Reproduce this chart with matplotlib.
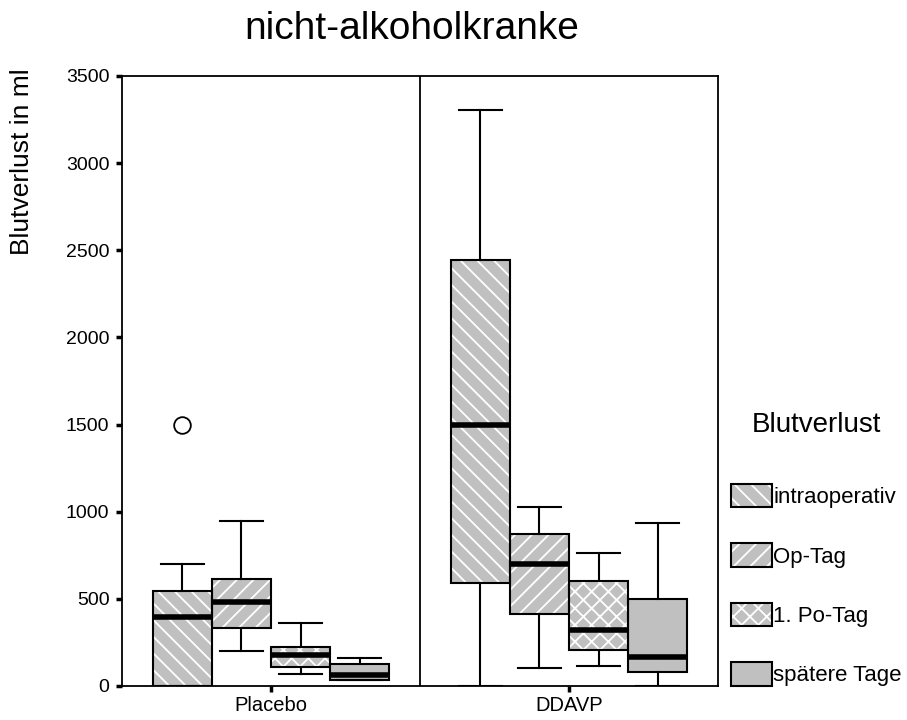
import numpy as np
import matplotlib
matplotlib.use("Agg")
import matplotlib.pyplot as plt
from matplotlib.patches import Patch
from matplotlib.legend_handler import HandlerTuple

plt.rcParams['font.family'] = ['Liberation Sans', 'DejaVu Sans']
plt.rcParams['hatch.linewidth'] = 1.3

# ----
# Data
# ----
groups = ['Placebo', 'DDAVP']
series = ['intraoperativ', 'Op-Tag', '1. Po-Tag', 'spätere Tage']
hatches = ['\\\\', '//', 'xx', '']

# per group, per series: whislo, q1, median, q3, whishi
whislo = [[0, 203, 67, 34], [0, 101, 115, 0]]
q1 = [[0, 333, 111, 34], [590, 411, 207, 79]]
med = [[398, 482, 178, 63], [1500, 698, 321, 168]]
q3 = [[547, 616, 225, 124], [2444, 870, 604, 501]]
whishi = [[700, 948, 363, 160], [3305, 1029, 765, 937]]
fliers = [[[1500], [], [], []], [[], [], [], []]]

# ------
# Layout
# ------
fig = plt.figure(figsize=(9.07, 7.2), dpi=100)
ax = fig.add_axes([122/907, 1-686/720, (718-122)/907, (686-76)/720])

w = 0.198
gray = '#c0c0c0'
offsets = (np.arange(len(series)) - 1.5)*w

stats = []
positions = []
for g in range(len(groups)):
    for s in range(len(series)):
        stats.append(dict(whislo=whislo[g][s], q1=q1[g][s], med=med[g][s],
                          q3=q3[g][s], whishi=whishi[g][s], fliers=fliers[g][s]))
        positions.append(g + offsets[s])

# hatched fills (white hatch) and outlines
for g in range(len(groups)):
    x = g + offsets
    h = np.array(q3[g]) - np.array(q1[g])
    for s in range(len(series)):
        ax.bar(x[s], h[s], bottom=q1[g][s], width=w, color=gray, edgecolor='white',
               hatch=hatches[s], linewidth=0, zorder=2)

ax.bxp(stats, positions=positions, widths=w, showbox=False, capwidths=w*0.72,
       whiskerprops=dict(color='black', lw=1.5),
       capprops=dict(color='black', lw=1.5),
       medianprops=dict(color='black', lw=4, solid_capstyle='butt'),
       flierprops=dict(marker='o', markerfacecolor='white', markeredgecolor='black',
                       markersize=12, markeredgewidth=1.3),
       manage_ticks=False, zorder=3)

for g in range(len(groups)):
    x = g + offsets
    h = np.array(q3[g]) - np.array(q1[g])
    ax.bar(x, h, bottom=q1[g], width=w, fill=False, edgecolor='black',
           linewidth=1.5, zorder=4)

ax.axvline(0.5, color='black', lw=1.3, zorder=5)

ax.set_xlim(-0.5, 1.5)
ax.set_ylim(0, 3500)
ax.set_yticks(np.arange(0, 3501, 500))
ax.set_xticks(range(len(groups)))
ax.set_xticklabels(groups)
ax.tick_params(axis='both', direction='out', length=4, width=2.5, labelsize=14,
               colors='black', pad=5)
ax.tick_params(axis='x', pad=3, labelsize=14.5)
for sp in ax.spines.values():
    sp.set_linewidth(1.3)

fig.text(412/907, 1-29/720, 'nicht-alkoholkranke', fontsize=28, ha='center', va='center')
fig.text(22/907, 1-162/720, 'Blutverlust in ml', fontsize=19, rotation=90,
         ha='center', va='center')

# legend
handles = []
for s in range(len(series)):
    fill = Patch(facecolor=gray, edgecolor='white', hatch=hatches[s], linewidth=0)
    edge = Patch(facecolor='none', edgecolor='black', linewidth=1.5)
    handles.append((fill, edge))
leg = fig.legend(handles, series, handler_map={tuple: HandlerTuple(ndivide=1, pad=0)},
                 loc='upper left', bbox_to_anchor=(731/907, 1-412/720), frameon=False,
                 fontsize=16, title='Blutverlust', title_fontsize=20,
                 handlelength=1.85, handleheight=1.26, handletextpad=0.05,
                 labelspacing=1.58, borderpad=0, borderaxespad=0)
leg._legend_box.sep = 33

fig.savefig('out.png', dpi=100)
